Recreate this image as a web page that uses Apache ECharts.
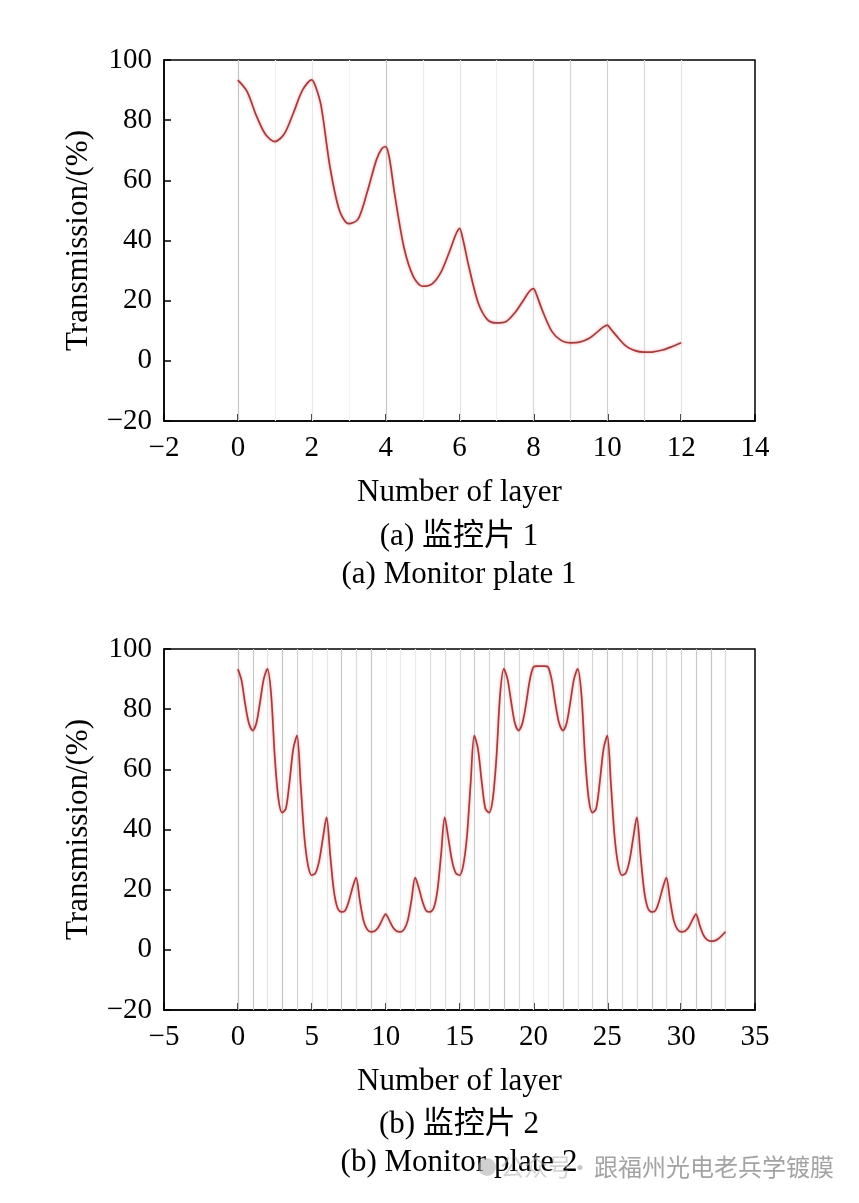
<!DOCTYPE html>
<html>
<head>
<meta charset="utf-8">
<script src="https://cdn.jsdelivr.net/npm/echarts@6/dist/echarts.min.js"></script>
<style>
html,body{margin:0;padding:0;background:#fff;}
#c{width:859px;height:1203px;}
</style>
</head>
<body>
<div id="c"></div>
<script>
// ---- Data ----
const yTicks = [-20, 0, 20, 40, 60, 80, 100];
const plate1XTicks = [-2, 0, 2, 4, 6, 8, 10, 12, 14];
const plate2XTicks = [-5, 0, 5, 10, 15, 20, 25, 30, 35];

// Monitor plate 1: [layer, transmission %]
const plate1 = [[0,93.3],[0.25,89.5],[0.5,81.5],[0.75,75.2],[1,72.9],[1.25,75.3],[1.5,82.3],[1.75,90.0],[2,93.4],[2.1,91.3],[2.25,85.0],[2.5,64.0],[2.75,50.0],[3,45.6],[3.25,47.0],[3.5,56.0],[3.75,66.8],[3.9,70.6],[4,71.2],[4.1,67.5],[4.25,55.0],[4.5,37.5],[4.75,28.0],[5,24.8],[5.25,25.5],[5.5,29.5],[5.75,37.0],[5.9,42.0],[6,44.0],[6.1,40.0],[6.25,31.5],[6.5,19.5],[6.75,13.8],[7,12.6],[7.25,13.0],[7.5,16.0],[7.75,20.5],[7.9,23.2],[8,24.0],[8.1,21.5],[8.25,16.5],[8.5,9.8],[8.75,6.8],[9,6.0],[9.25,6.2],[9.5,7.4],[9.75,9.8],[9.9,11.3],[10,11.9],[10.1,10.5],[10.25,8.3],[10.5,5.0],[10.75,3.4],[11,2.9],[11.25,3.0],[11.5,3.6],[11.75,4.7],[12,6.0]];

// Monitor plate 2: [layer, transmission %]
const plate2 = [[0,93.3],[0.25,89.5],[0.5,81.5],[0.75,75.2],[1,72.9],[1.25,75.3],[1.5,82.3],[1.75,90.0],[2,93.4],[2.25,85.0],[2.5,64.0],[2.75,50.0],[3,45.6],[3.25,47.0],[3.5,56.0],[3.75,66.8],[4,71.2],[4.25,55.0],[4.5,37.5],[4.75,28.0],[5,24.8],[5.25,25.5],[5.5,29.5],[5.75,37.0],[6,44.0],[6.25,31.5],[6.5,19.5],[6.75,13.8],[7,12.6],[7.25,13.0],[7.5,16.0],[7.75,20.5],[8,24.0],[8.25,16.5],[8.5,9.8],[8.75,6.8],[9,6.0],[9.25,6.2],[9.5,7.4],[9.75,9.8],[10,11.9],[10.25,9.8],[10.5,7.4],[10.75,6.2],[11,6.0],[11.25,6.8],[11.5,9.8],[11.75,16.5],[12,24.0],[12.25,20.5],[12.5,16.0],[12.75,13.0],[13,12.6],[13.25,13.8],[13.5,19.5],[13.75,31.5],[14,44.0],[14.25,37.0],[14.5,29.5],[14.75,25.5],[15,24.8],[15.25,28.0],[15.5,37.5],[15.75,55.0],[16,71.2],[16.25,66.8],[16.5,56.0],[16.75,47.0],[17,45.6],[17.25,50.0],[17.5,64.0],[17.75,85.0],[18,93.4],[18.25,90.0],[18.5,82.3],[18.75,75.3],[19,72.9],[19.25,75.2],[19.5,81.5],[19.75,89.5],[20,94.0],[20.25,94.3],[20.5,94.3],[20.75,94.3],[21,94.0],[21.25,89.5],[21.5,81.5],[21.75,75.2],[22,72.9],[22.25,75.3],[22.5,82.3],[22.75,90.0],[23,93.4],[23.25,85.0],[23.5,64.0],[23.75,50.0],[24,45.6],[24.25,47.0],[24.5,56.0],[24.75,66.8],[25,71.2],[25.25,55.0],[25.5,37.5],[25.75,28.0],[26,24.8],[26.25,25.5],[26.5,29.5],[26.75,37.0],[27,44.0],[27.25,31.5],[27.5,19.5],[27.75,13.8],[28,12.6],[28.25,13.0],[28.5,16.0],[28.75,20.5],[29,24.0],[29.25,16.5],[29.5,9.8],[29.75,6.8],[30,6.0],[30.25,6.2],[30.5,7.4],[30.75,9.8],[31,11.9],[31.25,8.3],[31.5,5.0],[31.75,3.4],[32,2.9],[32.25,3.0],[32.5,3.6],[32.75,4.7],[33,6.0]];

// Layer boundary lines
const plate1Layers = [0,1,2,3,4,5,6,7,8,9,10,11,12];
const plate2Layers = [0,1,2,3,4,5,6,7,8,9,10,11,12,13,14,15,16,17,18,19,20,21,22,23,24,25,26,27,28,29,30,31,32,33];

// ---- Styles ----
const plate1Shades = ['#c6c6c6','#f0f0f0','#e8e8e8','#f2f2f2','#c8c8c8','#ececec','#e4e4e4','#eeeeee','#d8d8d8','#d4d4d4','#d0d0d0','#d8d8d8','#e6e6e6'];
const plate2Shades = ['#c4c4c4','#c8c8c8','#e4e4e4','#c4c4c4','#d4d4d4','#e6e6e6','#e6e6e6','#c8c8c8','#dadada','#c8c8c8','#eeeeee','#eaeaea','#eaeaea','#dcdcdc','#dcdcdc','#d8d8d8','#cccccc','#d8d8d8','#c8c8c8','#d8d8d8','#eaeaea','#eaeaea','#c8c8c8','#e6e6e6','#d4d4d4','#c8c8c8','#d8d8d8','#d8d8d8','#c8c8c8','#d8d8d8','#d4d4d4','#c8c8c8','#c4c4c4','#d8d8d8'];

const SERIF = '"Liberation Serif", "Times New Roman", "Noto Sans CJK SC", serif';
const LINE = '#a43c3d';

function fmt(v){ return v < 0 ? '\u2212' + Math.abs(v) : String(v); }

function xAxisOf(gridIndex, ticks){
  return {
    type:'value', gridIndex, min: ticks[0], max: ticks[ticks.length-1], interval: ticks[1]-ticks[0],
    name:'Number of layer', nameLocation:'middle', nameGap:56,
    nameTextStyle:{fontFamily:SERIF, fontSize:31, color:'#000'},
    axisLine:{show:true, onZero:false, lineStyle:{color:'#000', width:1.5}},
    axisTick:{show:true, inside:true, length:7, lineStyle:{color:'#000', width:1.5}},
    axisLabel:{fontFamily:SERIF, fontSize:29, color:'#000', margin:13, formatter: fmt},
    splitLine:{show:false}
  };
}
function yAxisOf(gridIndex){
  return {
    type:'value', gridIndex, min: yTicks[0], max: yTicks[yTicks.length-1], interval: 20,
    name:'Transmission/(%)', nameLocation:'middle', nameGap:70, nameRotate:90,
    nameTextStyle:{fontFamily:SERIF, fontSize:31, color:'#000'},
    axisLine:{show:true, onZero:false, lineStyle:{color:'#000', width:1.5}},
    axisTick:{show:true, inside:true, length:7, lineStyle:{color:'#000', width:1.5}},
    axisLabel:{fontFamily:SERIF, fontSize:29, color:'#000', margin:12, formatter: fmt},
    splitLine:{show:false}
  };
}
function layerLines(idx, layers, shades){
  return {
    type:'custom', xAxisIndex:idx, yAxisIndex:idx, z:1, silent:true,
    data: layers.map((l,i)=>[l,i]),
    renderItem:(params, api)=>{
      const cs = params.coordSys;
      const x = Math.round(api.coord([api.value(0), 0])[0]) + 0.5;
      return {type:'line', shape:{x1:x, y1:cs.y, x2:x, y2:cs.y+cs.height},
              style:{stroke: shades[api.value(1)], lineWidth:1.2}};
    }
  };
}
function curve(idx, data){
  return {
    type:'line', xAxisIndex:idx, yAxisIndex:idx, z:3, data, smooth:0.3,
    showSymbol:false, symbol:'none', silent:true,
    lineStyle:{color:LINE, width:1.7, shadowColor:'rgba(235,120,120,0.75)', shadowBlur:3}
  };
}

const chart = echarts.init(document.getElementById('c'), null, {renderer:'canvas'});
chart.setOption({
  animation:false,
  backgroundColor:'#fff',
  grid:[
    {left:164, top:60, width:591, height:361, show:true, borderColor:'#000', borderWidth:1.5, backgroundColor:'transparent'},
    {left:164, top:649, width:591, height:361, show:true, borderColor:'#000', borderWidth:1.5, backgroundColor:'transparent'}
  ],
  xAxis:[xAxisOf(0, plate1XTicks), xAxisOf(1, plate2XTicks)],
  yAxis:[yAxisOf(0), yAxisOf(1)],
  series:[
    layerLines(0, plate1Layers, plate1Shades),
    layerLines(1, plate2Layers, plate2Shades),
    curve(0, plate1),
    curve(1, plate2)
  ],
  graphic:[
    {type:'text', x:459, y:537, style:{text:'(a) 监控片 1', font:'31px ' + SERIF, fill:'#000', align:'center', verticalAlign:'middle'}},
    {type:'text', x:459, y:575, style:{text:'(a) Monitor plate 1', font:'31px ' + SERIF, fill:'#000', align:'center', verticalAlign:'middle'}},
    {type:'text', x:459, y:1125, style:{text:'(b) 监控片 2', font:'31px ' + SERIF, fill:'#000', align:'center', verticalAlign:'middle'}},
    {type:'text', x:459, y:1163, style:{text:'(b) Monitor plate 2', font:'31px ' + SERIF, fill:'#000', align:'center', verticalAlign:'middle'}},
    {type:'circle', z:10, shape:{cx:487, cy:1167, r:9}, style:{fill:'rgba(170,170,170,0.55)'}},
    {type:'text', z:10, x:500, y:1167, style:{text:'公众号', font:'24px "Noto Sans CJK SC"', fill:'rgba(175,175,175,0.55)', align:'left', verticalAlign:'middle'}},
    {type:'text', z:10, x:580, y:1167, style:{text:'·', font:'24px "Noto Sans CJK SC"', fill:'rgba(175,175,175,0.7)', align:'center', verticalAlign:'middle'}},
    {type:'text', z:10, x:594, y:1167, style:{text:'跟福州光电老兵学镀膜', font:'24px "Noto Sans CJK SC"', fill:'#a3a3a3', align:'left', verticalAlign:'middle'}}
  ]
});
</script>
</body>
</html>
